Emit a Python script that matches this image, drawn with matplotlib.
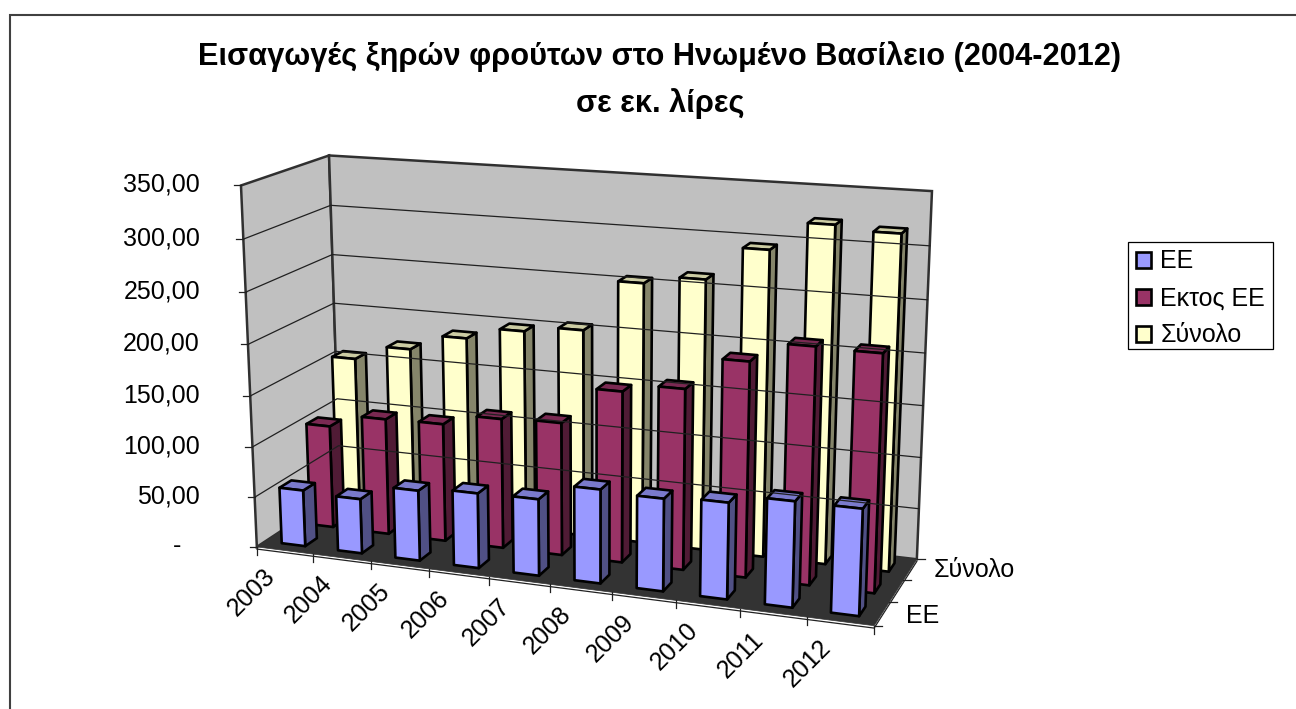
import numpy as np
import matplotlib
matplotlib.use('Agg')
import matplotlib.pyplot as plt
from matplotlib.patches import Polygon, Patch, Rectangle

plt.rcParams['font.family'] = ['Liberation Sans', 'DejaVu Sans']

years = ['2003', '2004', '2005', '2006', '2007', '2008', '2009', '2010', '2011', '2012']
ee = [56, 54, 69, 73, 74, 90, 88, 91, 99, 99]
ektos = [103, 116, 117, 128, 130, 166, 174, 205, 224, 223]
synolo = [156, 171, 187, 199, 205, 255, 263, 295, 322, 318]
y_ticks = [0, 50, 100, 150, 200, 250, 300, 350]
y_labels = ['-', '50,00', '100,00', '150,00', '200,00', '250,00', '300,00', '350,00']

Y_MAX = 350
BAR_X = 0.42
BAR_D = 0.41

# box corners (x, depth, height, all 0-1) and where they land on the picture
box = [(0, 0, 0), (1, 0, 0), (1, 1, 0), (0, 1, 0), (0, 0, 1), (0, 1, 1), (1, 1, 1)]
pix = [(257, 548), (874, 625), (917, 560), (340, 491), (241, 185), (329, 156), (932, 191)]

rows = []
rhs = []
for (X, Y, Z), (u, v) in zip(box, pix):
    rows.append([X, Y, Z, 1, 0, 0, 0, 0, -u * X, -u * Y, -u * Z])
    rows.append([0, 0, 0, 0, X, Y, Z, 1, -v * X, -v * Y, -v * Z])
    rhs += [u, v]
h = np.linalg.lstsq(np.array(rows, float), np.array(rhs, float), rcond=None)[0]
P = np.append(h, 1).reshape(3, 4)


def proj(cat, ser, val):
    # cat in categories, ser in series bands, val in chart units
    p = P @ np.array([cat / len(years), ser / 3, val / Y_MAX, 1])
    return p[0] / p[2], p[1] / p[2]


def shade(col, f):
    c = matplotlib.colors.to_rgb(col)
    return tuple(x * f for x in c)


fig = plt.figure(figsize=(12.96, 7.09), dpi=100)
ax = fig.add_axes([0, 0, 1, 1])
ax.set_xlim(0, 1296)
ax.set_ylim(709, 0)
ax.axis('off')

# outer frame, right and bottom are cut off in the original
ax.plot([10, 10, 1296], [709, 15, 15], color='#404040', lw=1.5, solid_joinstyle='miter')

ax.text(660, 57, 'Εισαγωγές ξηρών φρούτων στο Ηνωμένο Βασίλειο (2004-2012)',
        ha='center', va='center', fontsize=22.15, fontweight='bold')
ax.text(660, 104, 'σε εκ. λίρες', ha='center', va='center', fontsize=22.15, fontweight='bold')

n = len(years)
wall = '#C0C0C0'
edge = '#303030'

# walls
ax.add_patch(Polygon([proj(0, 0, 0), proj(0, 3, 0), proj(0, 3, Y_MAX), proj(0, 0, Y_MAX)],
                     fc=wall, ec=edge, lw=1.8))
ax.add_patch(Polygon([proj(0, 3, 0), proj(n, 3, 0), proj(n, 3, Y_MAX), proj(0, 3, Y_MAX)],
                     fc=wall, ec=edge, lw=1.8))

# gridlines and y ticks
for t, lab in zip(y_ticks, y_labels):
    a = proj(0, 0, t)
    b = proj(0, 3, t)
    c = proj(n, 3, t)
    if 0 < t < Y_MAX:
        ax.plot([a[0], b[0], c[0]], [a[1], b[1], c[1]], color='#202020', lw=0.9)
    ax.plot([a[0] - 7, a[0]], [a[1], a[1]], color='#202020', lw=0.9)
    x_lab = 181 if t == 0 else 200
    ax.text(x_lab, a[1] - 0.5, lab, ha='right', va='center', fontsize=18)

# floor, with the thin slab line at the front and right
floor = [proj(0, 0, 0), proj(n, 0, 0), proj(n, 3, 0), proj(0, 3, 0)]
ax.add_patch(Polygon(floor, fc='#333333', ec='#333333', lw=0.5))
s = [proj(0, 0, -2.2), proj(n, 0, -2.2), proj(n, 3, -2.2)]
ax.plot([p[0] for p in s], [p[1] for p in s], color='#222222', lw=0.9)

# category ticks and labels
for i in range(n + 1):
    a = proj(i, 0, 0)
    ax.plot([a[0], a[0]], [a[1], a[1] + 8], color='#202020', lw=0.9)
for i, year in enumerate(years):
    a = proj(i + 0.5, 0, 0)
    ax.text(a[0] - 33, a[1] + 42, year, rotation=45, ha='center', va='center', fontsize=18)

# series ticks on the right edge
for j in range(4):
    a = proj(n, j, 0)
    ax.plot([a[0], a[0] + 8], [a[1], a[1]], color='#202020', lw=0.9)
a = proj(n, 2.5, 0)
ax.text(a[0] + 23, a[1], 'Σύνολο', ha='left', va='center', fontsize=18)
a = proj(n, 0.5, 0)
ax.text(a[0] + 24, a[1] + 2, 'ΕΕ', ha='left', va='center', fontsize=18)

# bars: back series first
series = [('ΕΕ', ee, '#9999FF'), ('Εκτος ΕΕ', ektos, '#993366'), ('Σύνολο', synolo, '#FFFFCC')]
gap_x = (1 - BAR_X) / 2
gap_d = (1 - BAR_D) / 2
for j in (2, 1, 0):
    name, vals, col = series[j]
    d0, d1 = j + gap_d, j + 1 - gap_d
    for i, v in enumerate(vals):
        c0, c1 = i + gap_x, i + 1 - gap_x
        style = dict(ec='black', lw=1.9, joinstyle='round')
        ax.add_patch(Polygon([proj(c1, d0, 0), proj(c1, d1, 0), proj(c1, d1, v), proj(c1, d0, v)],
                             fc=shade(col, 0.52), **style))
        ax.add_patch(Polygon([proj(c0, d0, v), proj(c1, d0, v), proj(c1, d1, v), proj(c0, d1, v)],
                             fc=shade(col, 0.8), **style))
        ax.add_patch(Polygon([proj(c0, d0, 0), proj(c1, d0, 0), proj(c1, d0, v), proj(c0, d0, v)],
                             fc=col, **style))

# legend box drawn apart so its padding can differ from the row spacing
ax.add_patch(Rectangle((1128, 242), 145, 107, fc='white', ec='black', lw=0.9))
handles = [Patch(fc=col, ec='black', lw=1.9) for _, _, col in series]
leg = ax.legend(handles, [s[0] for s in series], loc='upper left',
                bbox_to_anchor=(1135.5 / 1296, 1 - 249.5 / 709), fontsize=18,
                frameon=False, borderpad=0,
                handlelength=0.6, handleheight=0.6, handletextpad=0.4,
                labelspacing=0.52, borderaxespad=0)

fig.savefig('out.png', dpi=100)
